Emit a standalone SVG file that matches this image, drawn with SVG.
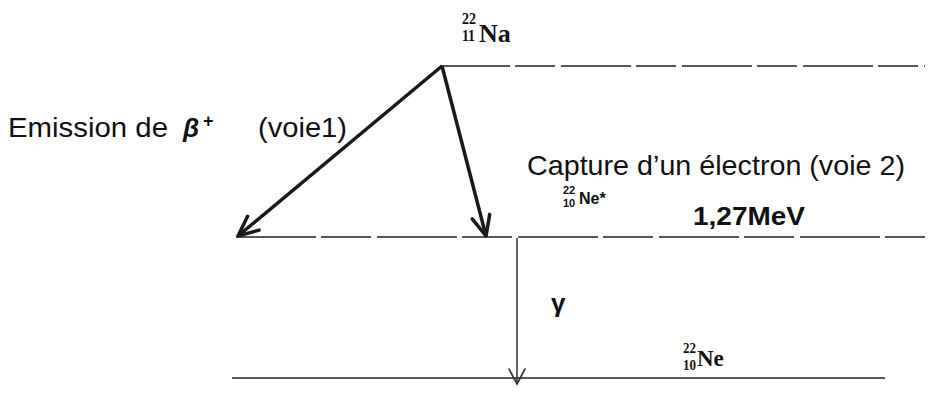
<svg xmlns="http://www.w3.org/2000/svg" width="928" height="394" viewBox="0 0 928 394">
<style>
.lbl{font-family:"Liberation Sans",Arial,sans-serif;fill:#111}
.iso{font-family:"Liberation Serif","Times New Roman",serif;font-weight:bold;fill:#111}
.lvl{stroke:#222;stroke-width:1.6;fill:none}
.thick{stroke:#1a1a1a;stroke-width:3.5;fill:none}
.thin{stroke:#222;stroke-width:1.4;fill:none}
</style>
<defs>
<marker id="headThick" markerUnits="userSpaceOnUse" markerWidth="40" markerHeight="40" viewBox="-30 -20 40 40" refX="0" refY="0" orient="auto">
<path d="M -20 -9 L 0 0 L -20 9" fill="none" stroke="#1a1a1a" stroke-width="3.5" stroke-linecap="round" stroke-linejoin="round"/>
</marker>
<marker id="headThin" markerUnits="userSpaceOnUse" markerWidth="40" markerHeight="40" viewBox="-30 -20 40 40" refX="0" refY="0" orient="auto">
<path d="M -15 -8 L 0 0 L -15 8" fill="none" stroke="#333" stroke-width="1.6" stroke-linecap="round"/>
</marker>
</defs>

<g id="level-Na">
<line class="lvl" x1="440" y1="66" x2="925" y2="66" stroke-dasharray="70 5 40 6"/>
<text class="iso" x="462" y="24" font-size="16" textLength="14" lengthAdjust="spacingAndGlyphs">22</text>
<text class="iso" x="462" y="41" font-size="16" textLength="13" lengthAdjust="spacingAndGlyphs">11</text>
<text class="iso" x="479" y="42" font-size="26">Na</text>
</g>

<g id="level-NeStar">
<line class="lvl" x1="236" y1="237" x2="925" y2="237" stroke-dasharray="80 5 50 6"/>
<text class="lbl" x="563" y="194" font-size="11" font-weight="bold">22</text>
<text class="lbl" x="563" y="207" font-size="11" font-weight="bold">10</text>
<text class="lbl" x="579" y="204" font-size="16" font-weight="bold">Ne*</text>
<text class="lbl" x="693" y="225" font-size="26" font-weight="bold" textLength="112" lengthAdjust="spacingAndGlyphs">1,27MeV</text>
</g>

<g id="level-Ne">
<line class="lvl" x1="232" y1="378" x2="885" y2="378"/>
<text class="iso" x="683" y="353" font-size="14" textLength="13" lengthAdjust="spacingAndGlyphs">22</text>
<text class="iso" x="683" y="370" font-size="14" textLength="13" lengthAdjust="spacingAndGlyphs">10</text>
<text class="iso" x="697" y="366" font-size="23">Ne</text>
</g>

<g id="label-voie1">
<text class="lbl" x="8" y="137" font-size="28" textLength="160" lengthAdjust="spacingAndGlyphs">Emission de</text>
<text class="lbl" x="183" y="137" font-size="26" font-style="italic" font-weight="bold">β</text>
<text class="lbl" x="203" y="127" font-size="18" font-weight="bold">+</text>
<text class="lbl" x="258" y="137" font-size="28" textLength="89" lengthAdjust="spacingAndGlyphs">(voie1)</text>
</g>

<g id="label-voie2">
<text class="lbl" x="527" y="175" font-size="28" textLength="378" lengthAdjust="spacingAndGlyphs">Capture d’un électron (voie 2)</text>
</g>

<g id="label-gamma">
<text class="lbl" x="551" y="312" font-size="26" font-weight="bold">γ</text>
</g>

<g id="connectors">
<line class="thick" x1="442" y1="66" x2="238" y2="236" marker-end="url(#headThick)"/>
<line class="thick" x1="442" y1="66" x2="486" y2="236" marker-end="url(#headThick)"/>
<line class="thin" x1="517" y1="238" x2="517" y2="384" marker-end="url(#headThin)"/>
</g>
</svg>
